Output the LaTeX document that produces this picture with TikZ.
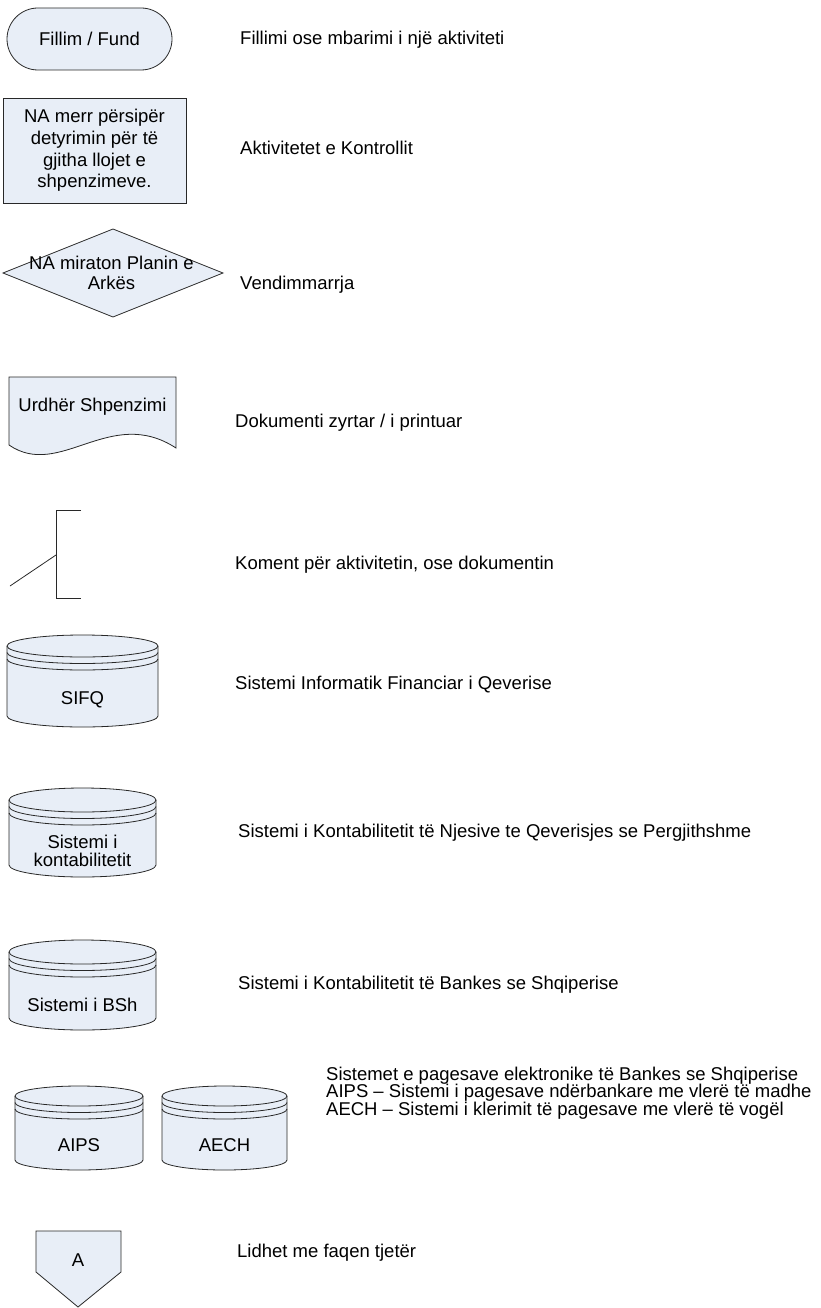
\documentclass[tikz,border=0pt]{standalone}
\usepackage{fontspec}
\setmainfont{Liberation Sans}
\definecolor{shpfill}{RGB}{232,238,247}
\definecolor{shpline}{RGB}{40,40,40}
\tikzset{
  shp/.style={fill=shpfill, draw=shpline, line width=0.8pt},
  ln/.style={draw=shpline, line width=0.8pt},
  txt/.style={inner sep=0pt, font=\fontsize{18.5}{20}\selectfont, align=center},
  lbl/.style={inner sep=0pt, font=\fontsize{18.5}{17.3}\selectfont, anchor=base west, align=left},
}
\newcommand\dbcyl[5]{%
  \filldraw[shp] ({#1-#2},{-#3}) -- ({#1-#2},{-#4})
    arc[start angle=180,end angle=360,x radius=#2pt,y radius=#5pt]
    -- ({#1+#2},{-#3})
    arc[start angle=0,end angle=180,x radius=#2pt,y radius=#5pt] -- cycle;
  \draw[ln] ({#1-#2},{-#3}) arc[start angle=180,end angle=360,x radius=#2pt,y radius=#5pt];
  \draw[ln] ({#1-#2},{-#3-6.5}) arc[start angle=180,end angle=360,x radius=#2pt,y radius=#5pt];
  \draw[ln] ({#1-#2},{-#3-13}) arc[start angle=180,end angle=360,x radius=#2pt,y radius=#5pt];
}
\begin{document}
\begin{tikzpicture}[x=1pt,y=1pt]
\useasboundingbox (0,0) rectangle (821,-1308);

% 1 terminal
\node[shp, txt, minimum width=165pt, minimum height=62pt, rounded corners=31pt] (term) at (89.5,-39) {Fillim / Fund};
\node[lbl] (l1) at (240,-44.5) {Fillimi ose mbarimi i një aktiviteti};

% 2 process
\node[shp, txt, minimum width=183pt, minimum height=105pt, font=\fontsize{18.5}{21.7}\selectfont] (proc) at (94.5,-150.5)
  {NA merr përsipër\\detyrimin për të\\gjitha llojet e\\shpenzimeve.};
\node[lbl] (l2) at (240,-154.5) {Aktivitetet e Kontrollit};

% 3 decision
\filldraw[shp] (3,-273) -- (113,-229) -- (223,-273) -- (113,-317) -- cycle;
\node[txt] (dec) at (111.5,-273) {NA miraton Planin e\\Arkës};
\node[lbl] (l3) at (240,-289.5) {Vendimmarrja};

% 4 document
\filldraw[shp] (9,-377) -- (176,-377) -- (176,-448) .. controls (110,-405) and (60,-480) .. (9,-445) -- cycle;
\node[txt] (doc) at (92.5,-407) {Urdhër Shpenzimi};
\node[lbl] (l4) at (235,-427.5) {Dokumenti zyrtar / i printuar};

% 5 comment
\coordinate (ct) at (81,-510);
\coordinate (cb) at (81,-598);
\coordinate (cm) at (56,-555);
\coordinate (cd) at (10,-586);
\draw[ln] (ct) -- (56,-510) -- (56,-598) -- (cb);
\draw[ln] (cd) -- (cm);
\node[lbl] (l5) at (235,-569.5) {Koment për aktivitetin, ose dokumentin};

% 6 SIFQ
\dbcyl{82.5}{75.5}{646}{716}{11}
\node[txt] (sifq) at (82.5,-700) {SIFQ};
\node[lbl] (l6) at (235,-689.5) {Sistemi Informatik Financiar i Qeverise};

% 7 kontabilitetit
\dbcyl{82.5}{73.5}{800}{865}{12}
\node[txt, font=\fontsize{18.5}{18.5}\selectfont] (kont) at (82.5,-851) {Sistemi i\\kontabilitetit};
\node[lbl] (l7) at (238,-837.5) {Sistemi i Kontabilitetit të Njesive te Qeverisjes se Pergjithshme};

% 8 BSh
\dbcyl{82.5}{73.5}{952}{1018}{12}
\node[txt] (bsh) at (82.5,-1005) {Sistemi i BSh};
\node[lbl] (l8) at (238,-989.5) {Sistemi i Kontabilitetit të Bankes se Shqiperise};

% 9 AIPS / AECH
\dbcyl{79}{64}{1096}{1160}{10}
\node[txt] (aips) at (79,-1145) {AIPS};
\dbcyl{224.5}{62.5}{1096}{1160}{10}
\node[txt] (aech) at (224.5,-1145) {AECH};
\node[lbl, anchor=west] (l9) at (326,-1093)
  {Sistemet e pagesave elektronike të Bankes se Shqiperise\\AIPS -- Sistemi i pagesave ndërbankare me vlerë të madhe\\AECH -- Sistemi i klerimit të pagesave me vlerë të vogël};

% 10 off-page
\filldraw[shp] (36,-1231) -- (121,-1231) -- (121,-1272) -- (78,-1307) -- (36,-1272) -- cycle;
\node[txt] (offp) at (78,-1260) {A};
\node[lbl] (l10) at (237,-1257.5) {Lidhet me faqen tjetër};
\end{tikzpicture}
\end{document}
